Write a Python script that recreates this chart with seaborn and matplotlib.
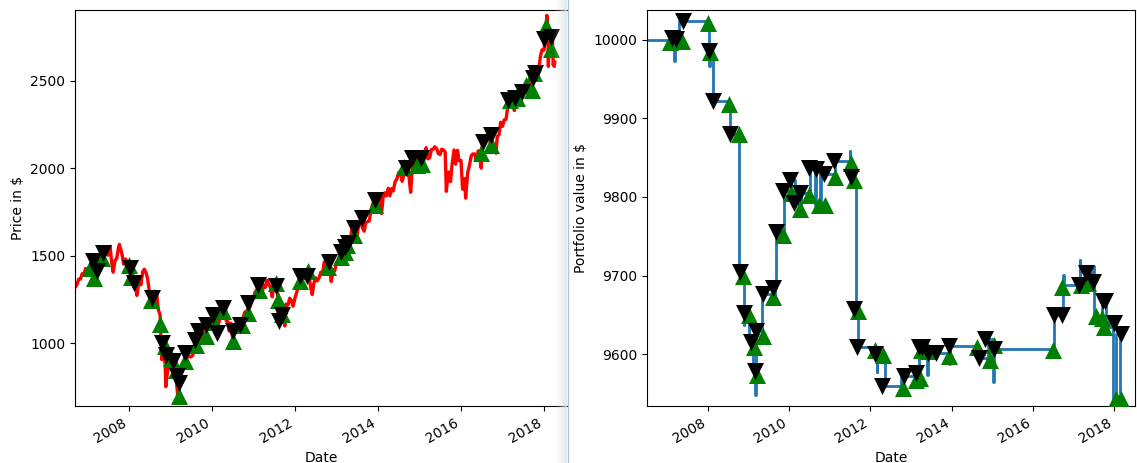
import numpy as np
import pandas as pd
import matplotlib
matplotlib.use("Agg")
import matplotlib.pyplot as plt
import matplotlib.dates as mdates
from matplotlib.lines import Line2D
import seaborn as sns

# ---------------------------------------------------------------------------
# S&P 500 close, sampled on the 1st and 15th of each month (Sep 2006 - Mar 2018)
# ---------------------------------------------------------------------------
close_semi = [
    # 2006 (Sep 15 .. Dec 15)
    1320, 1336, 1366, 1367, 1397, 1397, 1427,
    # 2007
    1418, 1431, 1445, 1456, 1387, 1387, 1421, 1452, 1486, 1500, 1536, 1533,
    1503, 1552, 1465, 1406, 1474, 1484, 1547, 1548, 1509, 1452, 1481, 1468,
    # 2008
    1468, 1380, 1395, 1349, 1331, 1288, 1370, 1334, 1409, 1423, 1400, 1360,
    1284, 1214, 1260, 1298, 1283, 1192, 1161, 907, 968, 873, 816, 869,
    # 2009
    903, 843, 826, 827, 735, 756, 811, 852, 878, 882, 942, 923,
    923, 932, 987, 1004, 998, 1052, 1029, 1096, 1036, 1093, 1109, 1107,
    # 2010
    1115, 1136, 1089, 1075, 1115, 1150, 1178, 1211, 1187, 1135, 1070, 1115,
    1027, 1096, 1101, 1079, 1080, 1125, 1146, 1176, 1184, 1197, 1206, 1241,
    # 2011
    1258, 1293, 1307, 1328, 1306, 1281, 1332, 1319, 1361, 1338, 1315, 1265,
    1339, 1316, 1287, 1204, 1204, 1209, 1131, 1224, 1218, 1257, 1244, 1212,
    # 2012
    1258, 1289, 1324, 1343, 1374, 1402, 1419, 1370, 1405, 1330, 1278, 1342,
    1374, 1356, 1375, 1405, 1406, 1465, 1444, 1440, 1427, 1353, 1416, 1413,
    # 2013
    1462, 1472, 1513, 1519, 1518, 1560, 1562, 1552, 1582, 1650, 1631, 1626,
    1614, 1680, 1706, 1661, 1640, 1688, 1695, 1698, 1761, 1798, 1806, 1775,
    # 2014
    1831, 1848, 1741, 1838, 1859, 1841, 1885, 1842, 1883, 1870, 1924, 1937,
    1973, 1981, 1925, 1955, 2003, 1985, 1946, 1862, 2018, 2039, 2053, 1989,
    # 2015
    2058, 1992, 1995, 2096, 2117, 2053, 2060, 2106, 2108, 2122, 2111, 2084,
    2077, 2108, 2104, 2092, 1914, 1978, 1923, 2023, 2104, 2023, 2102, 2043,
    # 2016
    2044, 1880, 1940, 1865, 1978, 2015, 2072, 2081, 2081, 2047, 2099, 2071,
    2102, 2162, 2170, 2190, 2171, 2147, 2161, 2133, 2111, 2180, 2191, 2262,
    # 2017
    2239, 2275, 2279, 2349, 2396, 2385, 2363, 2329, 2388, 2402, 2430, 2432,
    2423, 2459, 2476, 2465, 2476, 2500, 2519, 2553, 2579, 2565, 2642, 2676,
    # 2018 (Jan 1 .. Mar 15)
    2674, 2787, 2822, 2732, 2678, 2750,
]

# Intra-month highs / lows that the regular sampling misses
extra_dates = [
    "2006-09-13", "2007-02-27", "2007-07-19", "2007-10-09", "2008-03-10",
    "2008-11-20", "2009-03-09", "2010-05-06", "2010-07-02", "2011-08-08",
    "2011-10-03", "2015-08-25", "2016-02-11", "2016-06-27", "2016-11-04",
    "2018-01-26", "2018-02-08", "2018-03-23", "2018-03-28", "2018-04-02",
    "2018-04-06",
]
extra_close = [
    1318, 1399, 1553, 1565, 1273,
    752, 676, 1128, 1022, 1119,
    1099, 1868, 1829, 2000, 2085,
    2872, 2581, 2588, 2612, 2581,
    2604,
]

# ---------------------------------------------------------------------------
# Trades: date, S&P price at the trade, portfolio value at the trade
# ---------------------------------------------------------------------------
buy_dates = [
    "2007-01-20", "2007-03-01", "2007-05-12", "2007-12-28", "2008-01-18",
    "2008-07-10", "2008-10-03", "2008-11-12", "2009-01-08", "2009-02-15",
    "2009-03-15", "2009-05-12", "2009-08-10", "2009-11-10", "2010-01-20",
    "2010-04-08", "2010-07-01", "2010-09-25", "2010-11-15", "2011-02-18",
    "2011-07-15", "2011-08-05", "2011-09-12", "2012-02-15", "2012-04-22",
    "2012-10-20", "2013-02-10", "2013-03-20", "2013-04-01", "2013-06-05",
    "2013-12-05", "2014-08-20", "2014-12-10", "2015-01-20", "2016-06-28",
    "2016-09-20", "2017-03-10", "2017-05-10", "2017-07-25", "2017-09-15",
    "2017-10-05", "2018-01-15", "2018-03-05",
]
buy_price = [
    1430, 1374, 1488, 1447, 1380,
    1247, 1110, 982, 918, 849,
    697, 897, 992, 1039, 1124,
    1182, 1011, 1106, 1173, 1306,
    1346, 1249, 1165, 1353, 1410,
    1438, 1495, 1524, 1560, 1619,
    1790, 2009, 2018, 2025, 2085,
    2133, 2390, 2399, 2475, 2447,
    2542, 2813, 2680,
]
buy_value = [
    9997, 9998, 9999, 10021, 9984,
    9918, 9880, 9700, 9650, 9609,
    9573, 9623, 9673, 9752, 9805,
    9785, 9803, 9790, 9790, 9826,
    9843, 9822, 9655, 9605, 9599,
    9557, 9567, 9570, 9605, 9604,
    9598, 9609, 9592, 9612, 9605,
    9686, 9688, 9690, 9648, 9646,
    9635, 9543, 9543,
]

sell_dates = [
    "2007-02-15", "2007-03-22", "2007-05-20", "2008-01-08", "2008-02-15",
    "2008-07-20", "2008-10-15", "2008-11-22", "2009-01-20", "2009-02-25",
    "2009-03-12", "2009-05-08", "2009-08-05", "2009-09-01", "2009-11-05",
    "2010-01-12", "2010-02-10", "2010-04-10", "2010-07-01", "2010-09-01",
    "2010-11-12", "2011-02-10", "2011-07-15", "2011-08-10", "2011-09-05",
    "2012-02-15", "2012-04-12", "2012-10-25", "2013-02-10", "2013-03-15",
    "2013-04-10", "2013-06-01", "2013-08-10", "2013-12-08", "2014-09-05",
    "2014-10-25", "2015-01-15", "2016-07-12", "2016-09-20", "2017-02-20",
    "2017-04-20", "2017-06-25", "2017-09-28", "2017-10-12", "2018-01-02",
    "2018-03-01",
]
sell_price = [
    1468, 1410, 1515, 1430, 1344,
    1259, 1002, 935, 897, 811,
    773, 945, 1021, 1068, 1106,
    1163, 1059, 1201, 1068, 1106,
    1230, 1334, 1329, 1125, 1163,
    1382, 1382, 1467, 1524, 1552,
    1571, 1657, 1714, 1819, 1999,
    2056, 2056, 2151, 2190, 2390,
    2399, 2437, 2513, 2542, 2737,
    2748,
]
sell_value = [
    10002, 10001, 10024, 9986, 9922,
    9880, 9704, 9652, 9615, 9578,
    9629, 9677, 9684, 9755, 9807,
    9822, 9792, 9805, 9837, 9836,
    9829, 9846, 9826, 9658, 9609,
    9600, 9559, 9572, 9576, 9609,
    9609, 9601, 9601, 9610, 9595,
    9619, 9607, 9650, 9650, 9688,
    9703, 9692, 9667, 9667, 9639,
    9626,
]

# ---------------------------------------------------------------------------
# Portfolio value path (held constant between changes)
# ---------------------------------------------------------------------------
pv_dates = [
    "2006-07-01", "2007-03-01", "2007-03-08", "2007-04-15", "2007-12-28",
    "2008-01-08", "2008-01-15", "2008-02-12", "2008-07-08", "2008-07-14",
    "2008-10-08", "2008-10-25", "2008-11-18", "2008-11-22", "2008-12-20",
    "2008-12-30", "2009-01-08", "2009-01-25", "2009-02-08", "2009-02-25",
    "2009-03-05", "2009-03-12", "2009-04-28", "2009-05-02", "2009-08-12",
    "2009-08-22", "2009-09-08", "2009-11-08", "2009-11-12", "2010-01-12",
    "2010-01-18", "2010-02-22", "2010-02-26", "2010-04-02", "2010-04-20",
    "2010-06-25", "2010-07-05", "2010-08-22", "2010-08-26", "2010-10-08",
    "2010-10-12", "2011-02-08", "2011-02-18", "2011-06-28", "2011-07-03",
    "2011-07-12", "2011-08-18", "2011-08-22", "2011-09-08", "2011-09-14",
    "2012-02-28", "2012-03-04", "2012-03-08", "2012-05-10", "2012-05-14",
    "2012-10-02", "2012-10-06", "2013-02-05", "2013-02-10", "2013-03-12",
    "2013-05-28", "2013-06-02", "2013-08-18", "2013-12-10", "2013-12-16",
    "2014-08-30", "2014-09-08", "2014-11-22", "2014-11-28", "2015-01-12",
    "2015-01-18", "2016-07-01", "2016-07-08", "2016-09-28", "2016-10-04",
    "2017-02-28", "2017-03-04", "2017-05-02", "2017-06-28", "2017-07-03",
    "2017-07-08", "2017-09-12", "2017-10-20", "2017-11-15", "2017-12-26",
    "2018-01-20", "2018-02-22", "2018-03-06",
]
pv_values = [
    10000, 9973, 10000, 10024, 10021,
    9967, 9985, 9922, 9918, 9880,
    9704, 9700, 9637, 9652, 9658,
    9650, 9615, 9609, 9578, 9548,
    9573, 9629, 9623, 9677, 9673,
    9684, 9755, 9752, 9807, 9805,
    9822, 9817, 9792, 9785, 9805,
    9803, 9837, 9790, 9836, 9790,
    9829, 9826, 9846, 9858, 9843,
    9826, 9822, 9658, 9655, 9609,
    9577, 9605, 9600, 9599, 9559,
    9557, 9572, 9567, 9576, 9609,
    9574, 9609, 9601, 9588, 9610,
    9609, 9595, 9592, 9619, 9565,
    9607, 9605, 9650, 9701, 9688,
    9720, 9688, 9703, 9712, 9692,
    9648, 9667, 9646, 9635, 9543,
    9626, 9543, 9543,
]

# ---------------------------------------------------------------------------
price_dates = pd.date_range("2006-09-15", "2018-03-15", freq="SMS")
assert len(price_dates) == len(close_semi)
price = pd.concat([
    pd.Series(close_semi, index=price_dates),
    pd.Series(extra_close, index=pd.to_datetime(extra_dates)),
]).sort_index()

buys = pd.DataFrame({"date": pd.to_datetime(buy_dates), "price": buy_price, "value": buy_value})
sells = pd.DataFrame({"date": pd.to_datetime(sell_dates), "price": sell_price, "value": sell_value})
portfolio = pd.DataFrame({"date": pd.to_datetime(pv_dates), "value": pv_values})

W, H = 1137, 463
fig = plt.figure(figsize=(W / 100, H / 100), dpi=100)


def box(left, top, right, bottom):
    return [left / W, 1 - bottom / H, (right - left) / W, (bottom - top) / H]


ax1 = fig.add_axes(box(75, 10, 567, 406))
ax2 = fig.add_axes(box(647, 10, 1135, 406))

marker_size = 150

# --- price with trade signals
sns.lineplot(x=price.index, y=price.values, ax=ax1, color="red", linewidth=2.4,
             estimator=None, sort=False)
sns.scatterplot(data=buys, x="date", y="price", ax=ax1, marker="^", s=marker_size,
                color="green", edgecolor="green", linewidth=0, zorder=3)
sns.scatterplot(data=sells, x="date", y="price", ax=ax1, marker="v", s=marker_size,
                color="black", edgecolor="black", linewidth=0, zorder=4)
ax1.set_xlim(pd.Timestamp("2006-09-13"), pd.Timestamp("2018-07-22"))
ax1.set_ylim(642, 2903)
ax1.set_xlabel("Date")
ax1.set_ylabel("Price in $")
ax1.spines["right"].set_visible(False)

# --- portfolio value with trade signals
sns.lineplot(data=portfolio, x="date", y="value", ax=ax2, color="#1f77b4", linewidth=2,
             drawstyle="steps-post", estimator=None, sort=False)
sns.scatterplot(data=buys, x="date", y="value", ax=ax2, marker="^", s=marker_size,
                color="green", edgecolor="green", linewidth=0, zorder=3)
sns.scatterplot(data=sells, x="date", y="value", ax=ax2, marker="v", s=marker_size,
                color="black", edgecolor="black", linewidth=0, zorder=4)
ax2.set_xlim(pd.Timestamp("2006-07-01"), pd.Timestamp("2018-07-09"))
ax2.set_ylim(9534, 10038)
ax2.set_xlabel("Date")
ax2.set_ylabel("Portfolio value in $")

for ax in (ax1, ax2):
    ax.xaxis.set_major_locator(mdates.YearLocator(2))
    ax.xaxis.set_major_formatter(mdates.DateFormatter("%Y"))
    ax.xaxis.set_minor_locator(mdates.YearLocator(1))
    ax.tick_params(axis="x", which="minor", length=0)
    for lbl in ax.get_xticklabels():
        lbl.set_rotation(30)
        lbl.set_ha("right")

# scroll-panel edge between the two panels
band = fig.add_axes(box(551, 0, 567, H), zorder=10)
band.axis("off")
g = np.linspace(0, 1, 64)[None, :] ** 1.8
rgba = np.zeros((1, 64, 4))
rgba[..., :3] = 0.88
rgba[..., 3] = g * 0.8
band.imshow(rgba, aspect="auto", extent=(0, 1, 0, 1))
fig.add_artist(Line2D([567.5 / W] * 2, [0, 1], transform=fig.transFigure,
                      color="#a8c6ea", linewidth=1, zorder=11))

fig.savefig("out.png", dpi=100)
